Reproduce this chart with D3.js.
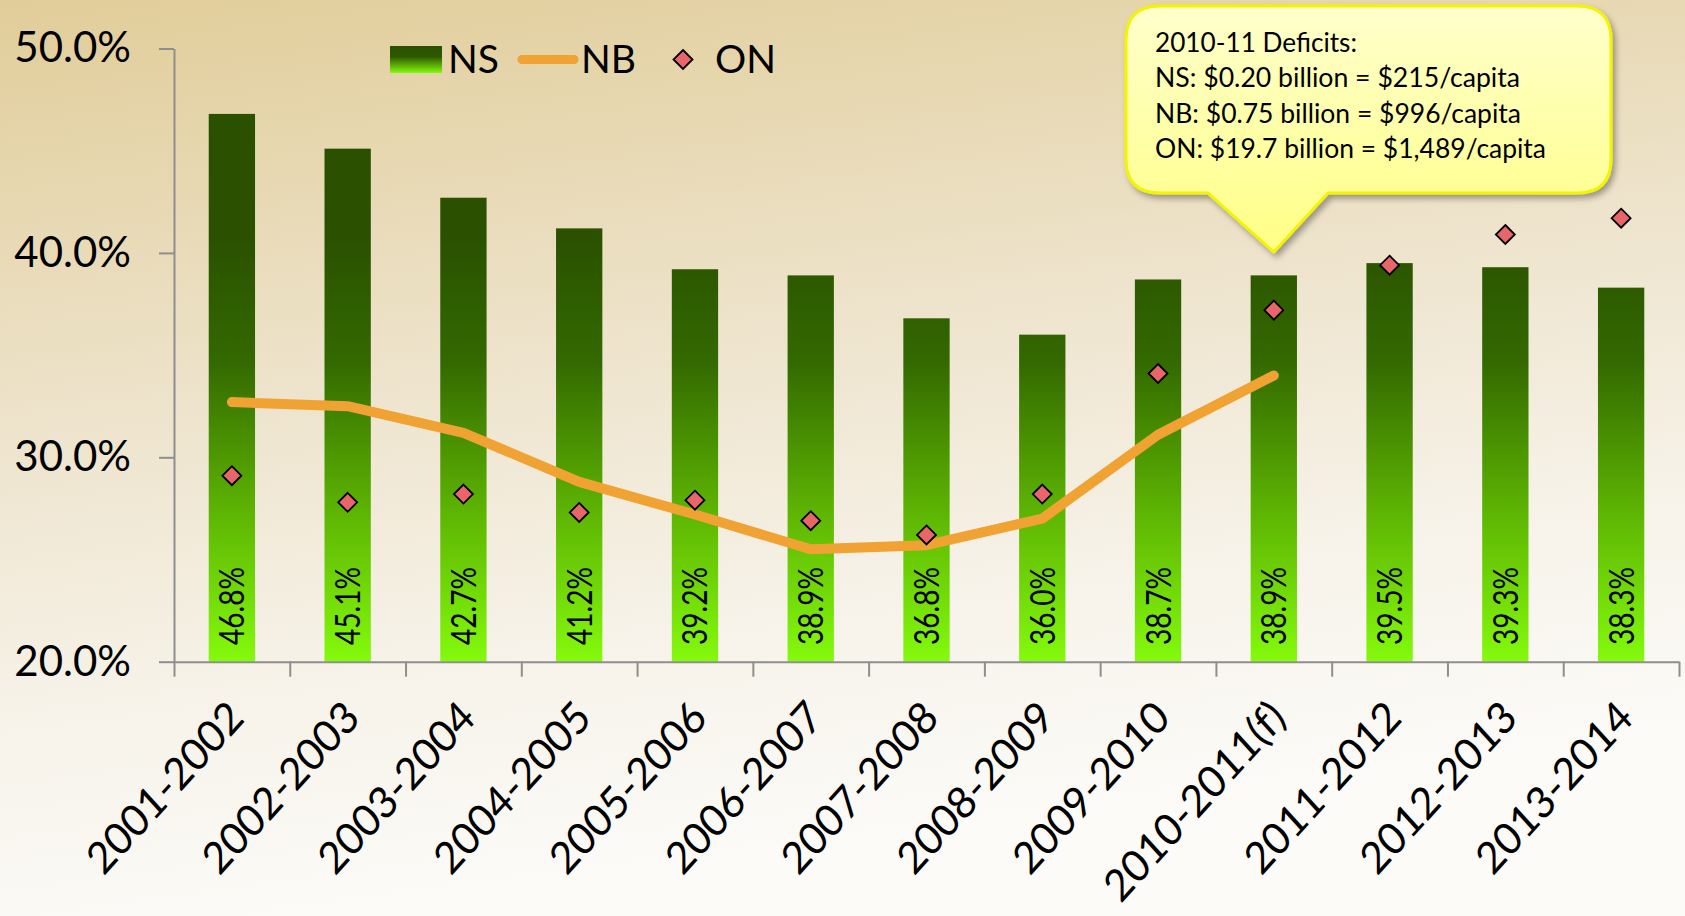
<!DOCTYPE html>
<html>
<head>
<meta charset="utf-8">
<script src="https://cdn.jsdelivr.net/npm/d3@7.9.0/dist/d3.min.js"></script>
<style>
  html, body { margin: 0; padding: 0; overflow: hidden; }
  svg { display: block; font-family: Lato, "Open Sans", sans-serif; }
</style>
</head>
<body>
<svg id="chart" width="1685" height="916"></svg>
<script>
// Chart data
const categories = ['2001-2002', '2002-2003', '2003-2004', '2004-2005', '2005-2006', '2006-2007',
  '2007-2008', '2008-2009', '2009-2010', '2010-2011(f)', '2011-2012', '2012-2013', '2013-2014'];
const nsValues = [46.8, 45.1, 42.7, 41.2, 39.2, 38.9, 36.8, 36.0, 38.7, 38.9, 39.5, 39.3, 38.3];
const nbValues = [32.7, 32.5, 31.2, 28.8, 27.2, 25.5, 25.7, 27.0, 31.1, 34.0];
const onValues = [29.1, 27.8, 28.2, 27.3, 27.9, 26.9, 26.2, 28.2, 34.1, 37.2, 39.4, 40.9, 41.7];
const yTicks = [20, 30, 40, 50];
const calloutLines = [
  '2010-11 Deficits:',
  'NS: $0.20 billion = $215/capita',
  'NB: $0.75 billion = $996/capita',
  'ON: $19.7 billion = $1,489/capita'
];

const svg = d3.select('#chart');
const defs = svg.append('defs');

// Background gradient
const bg = defs.append('linearGradient').attr('id', 'bg')
  .attr('x1', 0).attr('y1', 0).attr('x2', 0.25).attr('y2', 1);
bg.append('stop').attr('offset', 0).attr('stop-color', '#e1cd99');
bg.append('stop').attr('offset', 0.45).attr('stop-color', '#eee4cd');
bg.append('stop').attr('offset', 0.75).attr('stop-color', '#f7f3ea');
bg.append('stop').attr('offset', 1).attr('stop-color', '#fcfbf8');
svg.append('rect').attr('width', 1685).attr('height', 916).attr('fill', 'url(#bg)');

// Scales
const x = d3.scaleBand().domain(categories).range([174, 1679]).paddingInner(0.6).paddingOuter(0.3);
const xTicks = d3.scaleLinear().domain([0, categories.length]).range([174, 1679]);
const y = d3.scaleLinear().domain([20, 50]).range([661.7, 48.5]);

// Bar gradient (in page space, so every bar shares it)
const barGrad = defs.append('linearGradient').attr('id', 'barGrad')
  .attr('gradientUnits', 'userSpaceOnUse')
  .attr('x1', 0).attr('x2', 0).attr('y1', y(20)).attr('y2', y(41));
barGrad.append('stop').attr('offset', 0).attr('stop-color', '#84fa0c');
barGrad.append('stop').attr('offset', 0.35).attr('stop-color', '#5db403');
barGrad.append('stop').attr('offset', 0.7).attr('stop-color', '#336900');
barGrad.append('stop').attr('offset', 1).attr('stop-color', '#2a5000');

const swatchGrad = defs.append('linearGradient').attr('id', 'swatchGrad')
  .attr('x1', 0).attr('x2', 0).attr('y1', 0).attr('y2', 1);
swatchGrad.append('stop').attr('offset', 0).attr('stop-color', '#2a5000');
swatchGrad.append('stop').attr('offset', 0.4).attr('stop-color', '#2e5a00');
swatchGrad.append('stop').attr('offset', 1).attr('stop-color', '#84fa0c');

// Callout gradient and shadow
const callGrad = defs.append('linearGradient').attr('id', 'callGrad')
  .attr('x1', 0).attr('x2', 0).attr('y1', 0).attr('y2', 1);
callGrad.append('stop').attr('offset', 0).attr('stop-color', '#ffffcc');
callGrad.append('stop').attr('offset', 1).attr('stop-color', '#ffff86');
const shadow = defs.append('filter').attr('id', 'shadow')
  .attr('x', -0.1).attr('y', -0.1).attr('width', 1.2).attr('height', 1.3);
shadow.append('feDropShadow').attr('dx', 3).attr('dy', 4).attr('stdDeviation', 3)
  .attr('flood-color', '#000').attr('flood-opacity', 0.35);

// Bars
svg.append('g').selectAll('rect')
  .data(nsValues)
  .enter()
  .append('rect')
  .attr('x', (d, i) => x(categories[i]))
  .attr('y', d => y(d))
  .attr('width', x.bandwidth())
  .attr('height', d => y(20) - y(d))
  .attr('fill', 'url(#barGrad)');

// Bar labels
svg.append('g').selectAll('text')
  .data(nsValues)
  .enter()
  .append('text')
  .attr('transform', (d, i) => `translate(${x(categories[i]) + x.bandwidth() / 2 + 12.5},645) rotate(-90)`)
  .attr('font-size', 35)
  .attr('textLength', 78)
  .attr('lengthAdjust', 'spacingAndGlyphs')
  .attr('fill', '#000')
  .text(d => d.toFixed(1) + '%');

// Axes
const axisColor = '#8e8e8e';
const yAxis = svg.append('g')
  .attr('transform', 'translate(174,0)')
  .call(d3.axisLeft(y).tickValues(yTicks).tickFormat(d => d.toFixed(1) + '%')
    .tickSize(15).tickSizeOuter(0).tickPadding(28));
yAxis.selectAll('text').attr('font-size', 42).attr('font-family', 'Lato').attr('fill', '#000');

const xAxis = svg.append('g')
  .attr('transform', `translate(0,${y(20)})`)
  .call(d3.axisBottom(xTicks).tickValues(d3.range(categories.length + 1)).tickFormat('')
    .tickSize(15).tickSizeOuter(0));

[yAxis, xAxis].forEach(g => {
  g.select('.domain').attr('stroke', axisColor).attr('stroke-width', 2);
  g.selectAll('line').attr('stroke', axisColor).attr('stroke-width', 2);
});

// Category labels (slightly steeper than 45deg, as in the original)
svg.append('g').selectAll('text')
  .data(categories)
  .enter()
  .append('text')
  .attr('transform', d => `translate(${x(d) + x.bandwidth() / 2 + 14},720) scale(0.98,1.08) rotate(-45)`)
  .attr('text-anchor', 'end')
  .attr('font-size', 41)
  .attr('fill', '#000')
  .text(d => d);

// NB line
const line = d3.line()
  .x((d, i) => x(categories[i]) + x.bandwidth() / 2)
  .y(d => y(d));
svg.append('path')
  .datum(nbValues)
  .attr('d', line)
  .attr('fill', 'none')
  .attr('stroke', '#f0a232')
  .attr('stroke-width', 10)
  .attr('stroke-linecap', 'round')
  .attr('stroke-linejoin', 'round');

// ON diamonds
const diamond = 'M0,-9.5L9.5,0L0,9.5L-9.5,0Z';
svg.append('g').selectAll('path')
  .data(onValues)
  .enter()
  .append('path')
  .attr('transform', (d, i) => `translate(${x(categories[i]) + x.bandwidth() / 2},${y(d)})`)
  .attr('d', diamond)
  .attr('fill', '#e8666a')
  .attr('stroke', '#000')
  .attr('stroke-width', 1.8);

// Legend
const legend = svg.append('g').attr('font-size', 39).attr('fill', '#000');
legend.append('rect').attr('x', 390).attr('y', 46).attr('width', 52).attr('height', 27)
  .attr('fill', 'url(#swatchGrad)');
legend.append('text').attr('x', 448).attr('y', 73).text('NS');
legend.append('line').attr('x1', 522).attr('x2', 574).attr('y1', 59.5).attr('y2', 59.5)
  .attr('stroke', '#f0a232').attr('stroke-width', 9).attr('stroke-linecap', 'round');
legend.append('text').attr('x', 581).attr('y', 73).text('NB');
legend.append('path').attr('transform', 'translate(683,59.5)').attr('d', diamond)
  .attr('fill', '#e8666a').attr('stroke', '#000').attr('stroke-width', 1.8);
legend.append('text').attr('x', 715).attr('y', 73).text('ON');

// Callout bubble pointing at the 2010-2011 forecast
const bx0 = 1126, bx1 = 1611, by0 = 6, by1 = 193, r = 34;
const tipX = x(categories[9]) + x.bandwidth() / 2, tipY = 252;
const p = d3.path();
p.moveTo(bx0 + r, by0);
p.lineTo(bx1 - r, by0);
p.quadraticCurveTo(bx1, by0, bx1, by0 + r);
p.lineTo(bx1, by1 - r);
p.quadraticCurveTo(bx1, by1, bx1 - r, by1);
p.lineTo(1328, by1);
p.lineTo(tipX, tipY);
p.lineTo(1208, by1);
p.lineTo(bx0 + r, by1);
p.quadraticCurveTo(bx0, by1, bx0, by1 - r);
p.lineTo(bx0, by0 + r);
p.quadraticCurveTo(bx0, by0, bx0 + r, by0);
p.closePath();
svg.append('path')
  .attr('d', p.toString())
  .attr('fill', 'url(#callGrad)')
  .attr('stroke', '#f4f400')
  .attr('stroke-width', 3)
  .attr('filter', 'url(#shadow)');

const lineWidths = [202, 365, 366, 391];
svg.append('g').selectAll('text')
  .data(calloutLines)
  .enter()
  .append('text')
  .attr('x', 1155)
  .attr('y', (d, i) => 52 + i * 35.3)
  .attr('font-size', 26)
  .attr('textLength', (d, i) => lineWidths[i])
  .attr('lengthAdjust', 'spacingAndGlyphs')
  .attr('fill', '#000')
  .text(d => d);
</script>
</body>
</html>
